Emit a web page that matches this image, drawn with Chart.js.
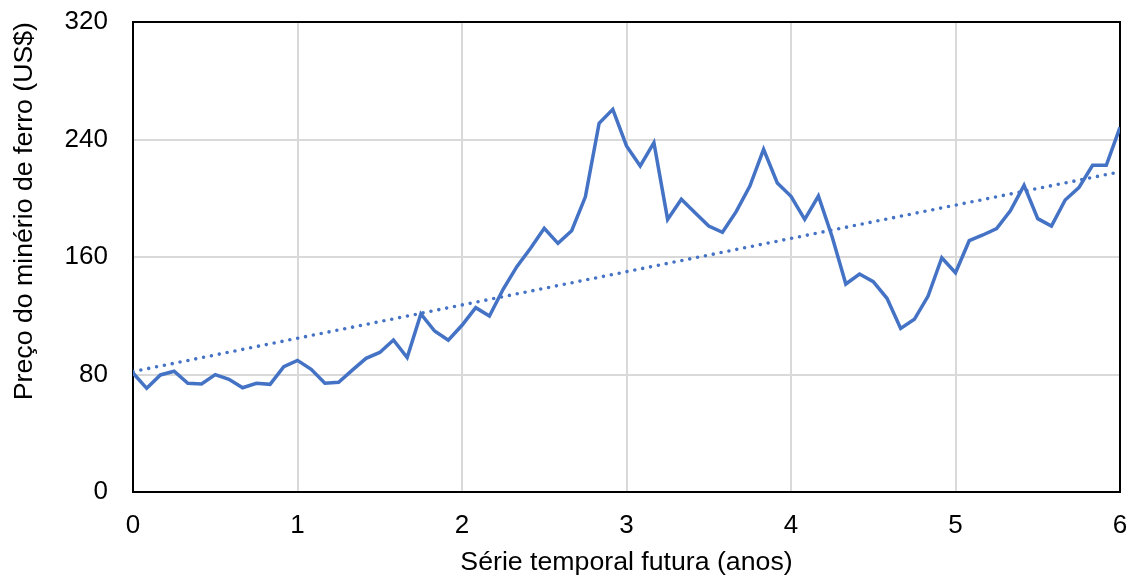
<!DOCTYPE html>
<html lang="pt">
<head>
    <meta charset="UTF-8">
    <title>Preço do minério de ferro</title>
    <script src="https://cdn.jsdelivr.net/npm/chart.js"></script>
    <style>
        body { margin: 0; background: #fff; }
        #wrap { width: 1135px; height: 580px; }
    </style>
</head>
<body>
    <div id="wrap"><canvas id="priceChart"></canvas></div>

    <script>
        // preço mensal (US$), 73 pontos = 6 anos
        const precos = [
            81, 70.6, 79.7, 82.2, 74, 73.5, 79.9, 76.7, 71, 74, 73.3, 85.3,
            89.6, 83.5, 74, 74.7, 83, 91, 95, 103.5, 91.5, 121.2, 109.6, 103.3,
            113.5, 125.5, 119.8, 138, 153.4, 165.9, 179.5, 169.3, 177.9, 201, 251, 260.5,
            235.6, 222, 237.8, 185.6, 199.3, 190.2, 181.1, 176.8, 190.9, 208.3, 233.3, 210.4,
            201.3, 185.6, 201.5, 173.8, 141.6, 148.4, 143.2, 131.9, 111.4, 117.6, 133.4, 159.5,
            149.3, 171.1, 175, 179.3, 191.5, 208.8, 186.1, 181.1, 198.8, 207.2, 222.4, 222.4,
            248.3
        ];
        // linha de tendência (início e fim)
        const tendenciaAnos = [0, 6];
        const tendenciaPrecos = [82, 218];

        const yTicks = [0, 80, 160, 240, 320];
        const xTicks = [0, 1, 2, 3, 4, 5, 6];

        const azul = "#4472C4";
        const fonte = "'Liberation Sans', Arial, sans-serif";

        const serie = precos.map((p, i) => ({ x: i / 12, y: p }));
        const tendencia = tendenciaAnos.map((a, i) => ({ x: a, y: tendenciaPrecos[i] }));

        // moldura preta em volta da área do gráfico
        const moldura = {
            id: 'moldura',
            beforeDatasetsDraw(chart) {
                const { ctx, chartArea: a } = chart;
                ctx.save();
                ctx.strokeStyle = '#000';
                ctx.lineWidth = 2;
                ctx.strokeRect(a.left, a.top, a.right - a.left, a.bottom - a.top);
                ctx.restore();
            }
        };

        new Chart(document.getElementById("priceChart"), {
            type: 'line',
            data: {
                datasets: [{
                    data: serie,
                    borderColor: azul,
                    borderWidth: 3.5,
                    pointRadius: 0,
                    tension: 0,
                    fill: false
                }, {
                    data: tendencia,
                    borderColor: azul,
                    borderWidth: 3.6,
                    borderDash: [0, 8],
                    borderCapStyle: 'round',
                    pointRadius: 0,
                    fill: false
                }]
            },
            options: {
                responsive: true,
                maintainAspectRatio: false,
                animation: false,
                layout: { padding: { top: 22, right: 15, bottom: 0, left: 0 } },
                plugins: {
                    legend: { display: false },
                    tooltip: { enabled: false }
                },
                scales: {
                    x: {
                        type: 'linear',
                        min: 0,
                        max: 6,
                        afterBuildTicks: s => { s.ticks = xTicks.map(v => ({ value: v })); },
                        afterFit: s => { s.height = 88; s.paddingLeft = 0; s.paddingRight = 0; },
                        grid: { color: '#d9d9d9', lineWidth: 2, drawTicks: false },
                        border: { display: false },
                        ticks: { color: '#000', padding: 18, font: { family: fonte, size: 26 } },
                        title: {
                            display: true,
                            text: 'Série temporal futura (anos)',
                            color: '#000',
                            font: { family: fonte, size: 26.7 },
                            padding: { top: 0, bottom: 1 }
                        }
                    },
                    y: {
                        min: 0,
                        max: 320,
                        afterBuildTicks: s => { s.ticks = yTicks.map(v => ({ value: v })); },
                        afterFit: s => { s.width = 133; s.paddingTop = 0; s.paddingBottom = 0; },
                        grid: { color: '#d9d9d9', lineWidth: 2, drawTicks: false },
                        border: { display: false },
                        ticks: { color: '#000', padding: 25, font: { family: fonte, size: 26 } },
                        title: {
                            display: true,
                            text: 'Preço do minério de ferro (US$)',
                            align: 'end',
                            color: '#000',
                            font: { family: fonte, size: 26.7 },
                            padding: { top: 9, bottom: 0 }
                        }
                    }
                }
            },
            plugins: [moldura]
        });
    </script>
</body>
</html>
